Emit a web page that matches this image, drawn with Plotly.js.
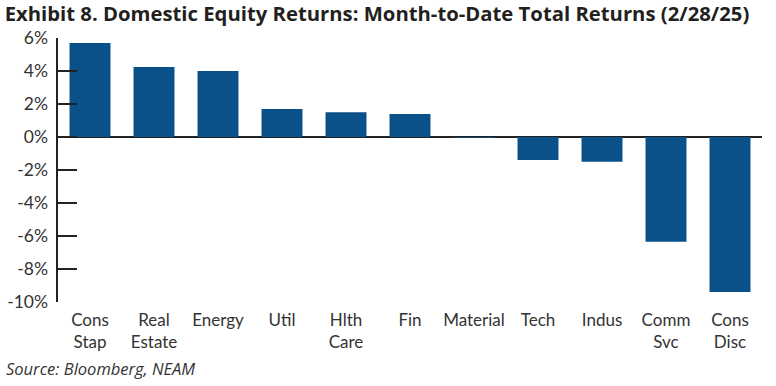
<!DOCTYPE html>
<html>
<head>
<meta charset="utf-8">
<script src="https://cdn.plot.ly/plotly-3.0.1.min.js"></script>
<style>html,body{margin:0;padding:0;background:#fff;}#chart{width:776px;height:386px;}</style>
</head>
<body>
<div id="chart"></div>
<script>
var categories = ["Cons<br>Stap", "Real<br>Estate", "Energy", "Util", "Hlth<br>Care", "Fin", "Material", "Tech", "Indus", "Comm<br>Svc", "Cons<br>Disc"];
var returns = [5.7, 4.25, 4.0, 1.7, 1.5, 1.4, -0.05, -1.4, -1.5, -6.35, -9.4];
var tickVals = [-10, -8, -6, -4, -2, 0, 2, 4, 6];
var tickText = ["-10%", "-8%", "-6%", "-4%", "-2%", "0%", "2%", "4%", "6%"];

var trace = {
  type: "bar",
  x: categories,
  y: returns,
  marker: {color: "#0b5189", line: {width: 0}},
  hoverinfo: "none"
};

var layout = {
  width: 776, height: 386,
  margin: {l: 58, r: 14, t: 38, b: 84},
  paper_bgcolor: "#fff", plot_bgcolor: "#fff",
  bargap: 0.36,
  showlegend: false,
  font: {family: "Lato, 'Open Sans', sans-serif", color: "#333", size: 16},
  title: {
    text: "<b>Exhibit 8. Domestic Equity Returns: Month-to-Date Total Returns (2/28/25)</b>",
    font: {family: "'Open Sans', sans-serif", size: 20.3, color: "#231f20"},
    x: 0.006, xanchor: "left", xref: "container", y: 0.963, yanchor: "middle", yref: "container"
  },
  xaxis: {
    type: "category",
    range: [-0.5, 10.5],
    showgrid: false, zeroline: false, showline: false,
    ticks: "",
    tickfont: {size: 17, color: "#333"},
    tickangle: 0,
    ticklabelstandoff: 6,
    automargin: false
  },
  yaxis: {
    range: [-10, 6],
    tickvals: tickVals, ticktext: tickText,
    showgrid: false,
    zeroline: true, zerolinecolor: "#222", zerolinewidth: 2.5,
    showline: true, linecolor: "#222", linewidth: 2.5,
    ticks: "inside", ticklen: 19, tickwidth: 2.5, tickcolor: "#222",
    tickfont: {size: 17.5, color: "#333"},
    ticklabelstandoff: 4,
    automargin: false
  },
  annotations: [{
    text: "<i>Source: Bloomberg, NEAM</i>",
    xref: "paper", yref: "paper", x: -0.076, y: -0.2, xanchor: "left", yanchor: "top",
    showarrow: false, font: {family: "'Open Sans', sans-serif", size: 16.5, color: "#333"}
  }]
};

Plotly.newPlot("chart", [trace], layout, {displayModeBar: false, staticPlot: true});
</script>
</body>
</html>
